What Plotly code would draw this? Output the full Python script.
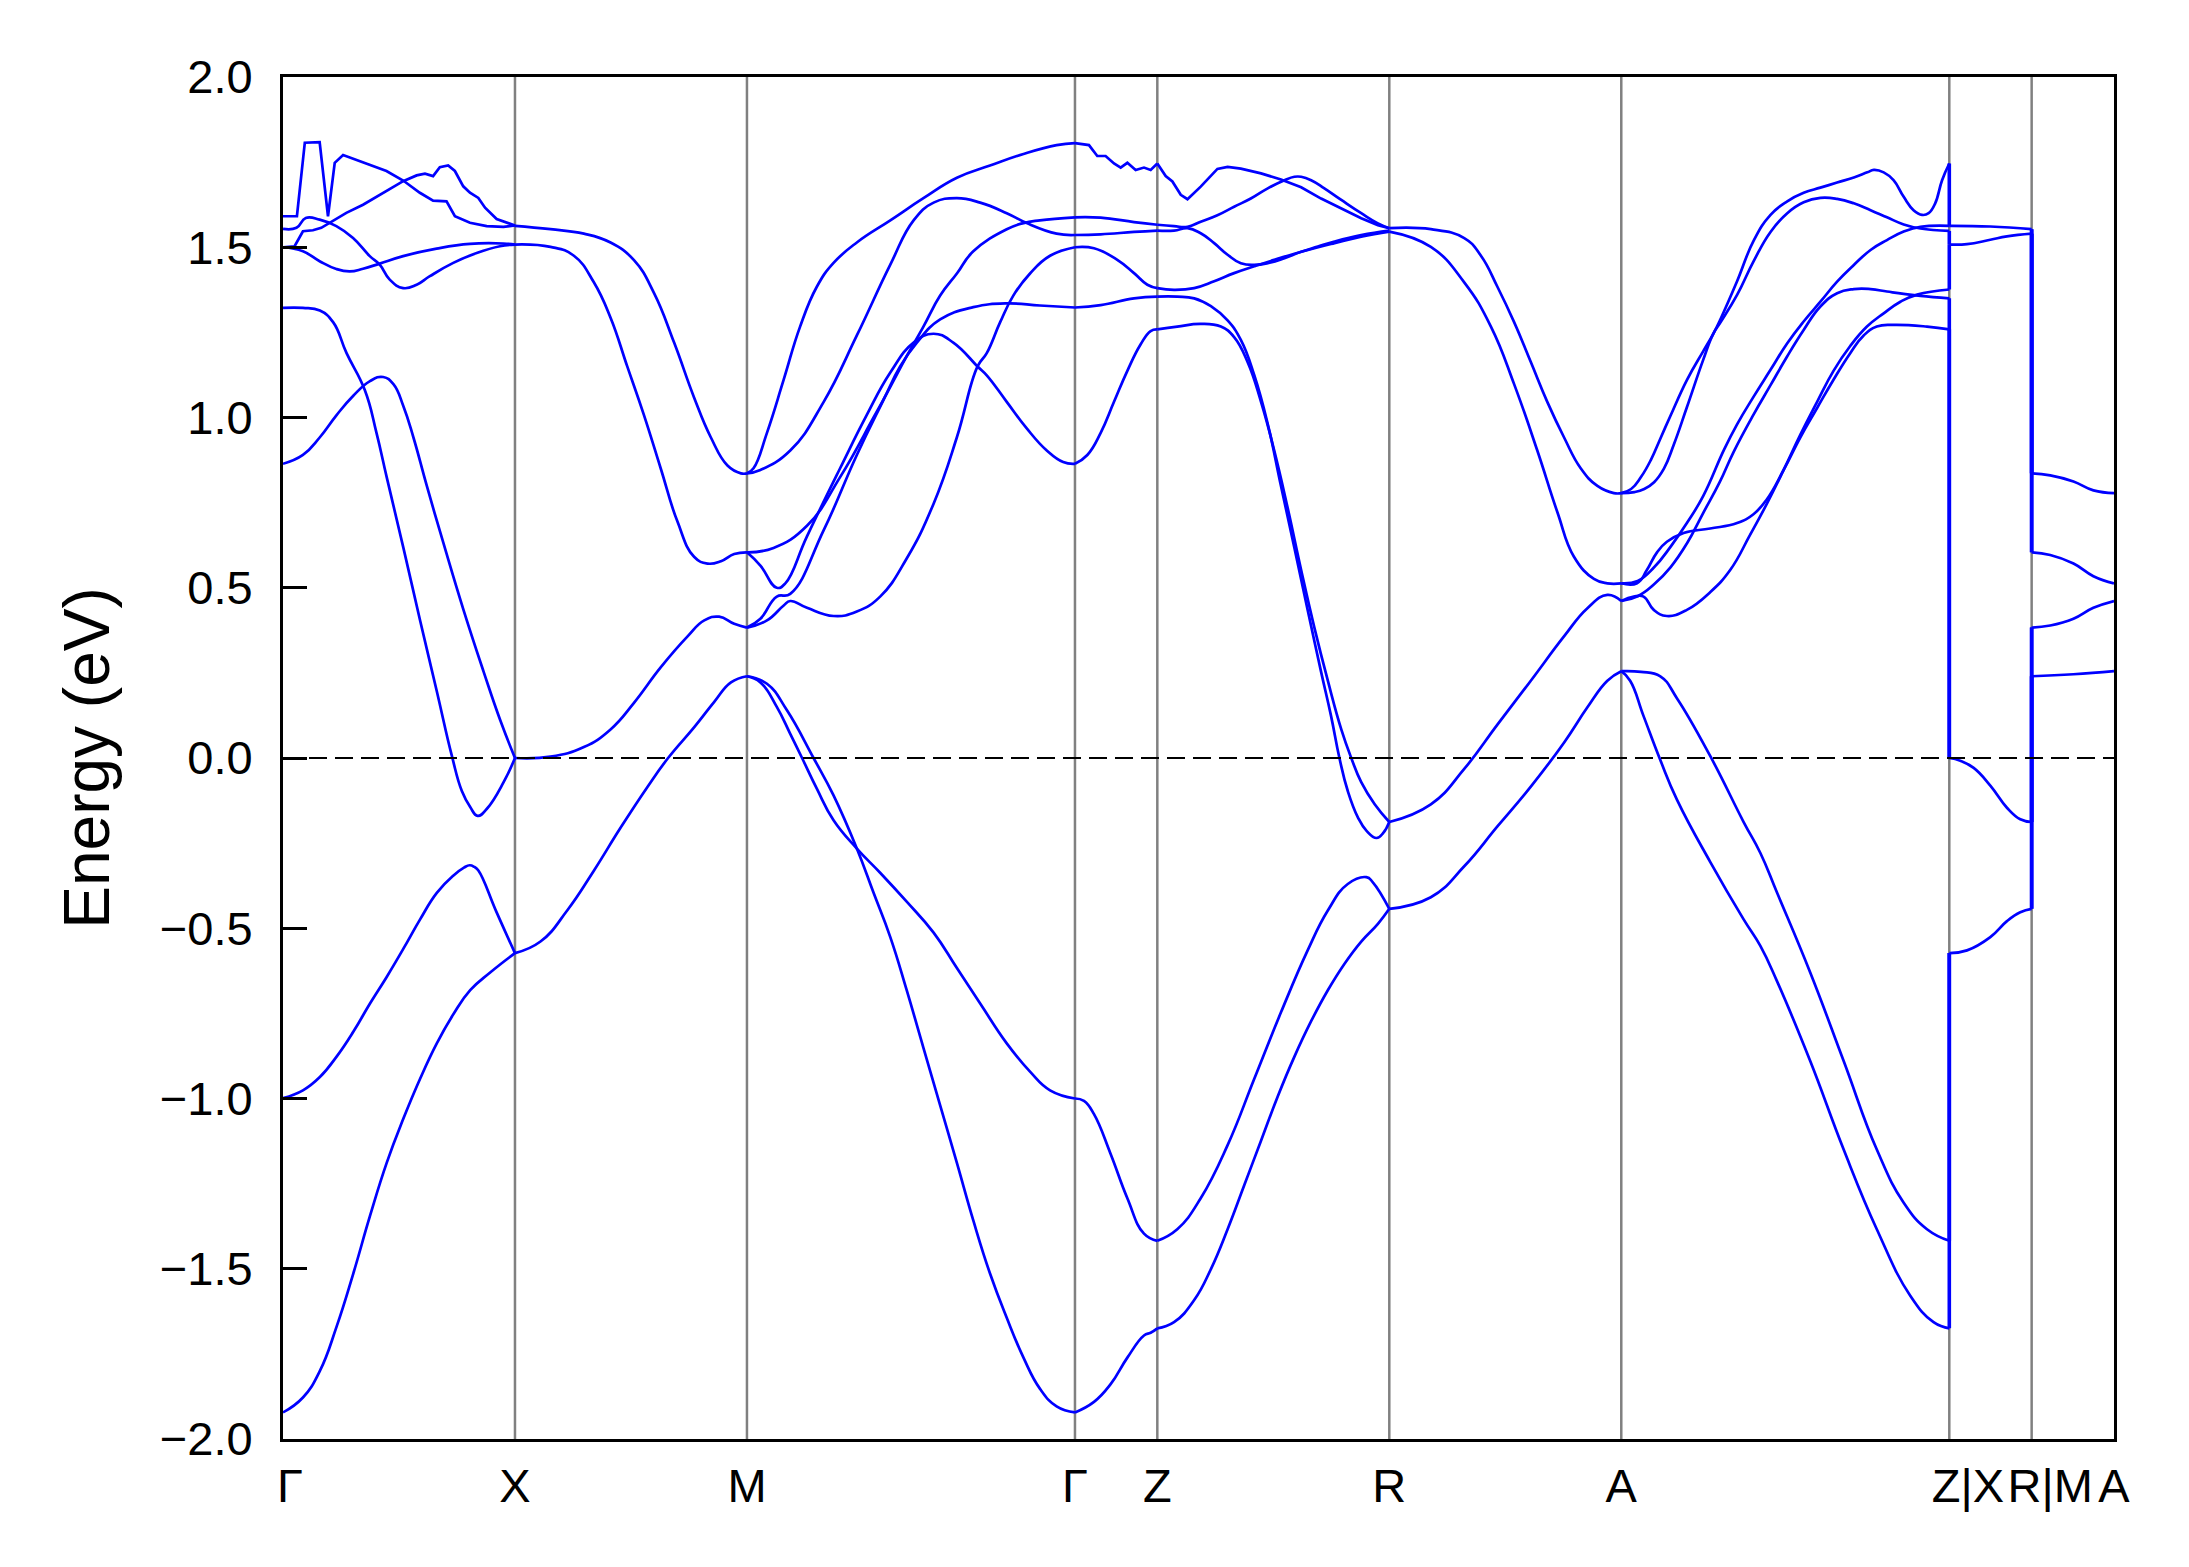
import plotly.graph_objects as go

# ---------------- axis labels / path ----------------
labels = ["Γ", "X", "M", "Γ", "Z", "R", "A", "Z|X", "R|M", "A"]
label_pos = [0.0, 1.0, 2.0, 3.414, 3.769, 4.769, 5.769, 7.183, 7.538, 7.893]

y_ticks = [-2.0, -1.5, -1.0, -0.5, 0.0, 0.5, 1.0, 1.5, 2.0]
y_tick_text = ["−2.0", "−1.5", "−1.0", "−0.5", "0.0", "0.5", "1.0", "1.5", "2.0"]

# ---------------- band data per segment ----------------
# each curve: (fraction along the segment, energy in eV, line shape)
GX = [
    ([0, .086, .159, .231, .303, .375, .447, .519, .591, .663, .735, .807, .893, 1],
     [-1.922, -1.878, -1.80, -1.67, -1.514, -1.345, -1.189, -1.059, -0.942, -0.838, -0.752, -0.682, -0.630, -0.573], "spline"),
    ([0, .086, .159, .231, .303, .375, .447, .519, .591, .663, .735, .78, .805, .825, .843, .92, 1],
     [-0.999, -0.976, -0.937, -0.877, -0.804, -0.721, -0.643, -0.560, -0.474, -0.396, -0.345, -0.322, -0.315, -0.320, -0.331, -0.452, -0.573], "spline"),
    ([0, .086, .159, .216, .274, .353, .403, .447, .519, .591, .663, .728, .771, .807, .839, .879, .951, 1],
     [1.322, 1.322, 1.314, 1.280, 1.189, 1.080, 0.955, 0.825, 0.617, 0.404, 0.196, 0.006, -0.097, -0.144, -0.170, -0.149, -0.071, 0.0], "spline"),
    ([0, .086, .159, .231, .303, .375, .432, .476, .519, .562, .620, .692, .778, .865, .937, 1],
     [0.864, 0.890, 0.942, 1.007, 1.064, 1.107, 1.119, 1.098, 1.033, 0.942, 0.799, 0.630, 0.435, 0.253, 0.110, 0.0], "spline"),
    ([0, .060, .094, .158, .194, .223, .259, .374, .446, .518, .590, .647, .705, .741, .806, .878, .950, 1],
     [1.591, 1.591, 1.807, 1.809, 1.591, 1.748, 1.771, 1.743, 1.724, 1.696, 1.660, 1.637, 1.635, 1.591, 1.572, 1.562, 1.560, 1.564], "linear"),
    ([0, .058, .098, .158, .230, .302, .374, .417, .460, .518, .576, .633, .734, .835, .935, 1],
     [1.554, 1.557, 1.586, 1.581, 1.562, 1.527, 1.474, 1.449, 1.405, 1.380, 1.390, 1.415, 1.454, 1.483, 1.503, 1.508], "spline"),
    ([0, .050, .086, .129, .165, .201, .273, .345, .432, .518, .576, .612, .647, .676, .712, .741, .777, .806, .842, .871, .921, 1],
     [1.5, 1.503, 1.547, 1.550, 1.557, 1.572, 1.601, 1.625, 1.660, 1.694, 1.711, 1.716, 1.709, 1.735, 1.740, 1.724, 1.679, 1.660, 1.645, 1.616, 1.583, 1.564], "linear"),
    ([0, .086, .158, .230, .288, .345, .417, .518, .662, .806, .950, 1],
     [1.5, 1.488, 1.459, 1.436, 1.429, 1.437, 1.452, 1.474, 1.496, 1.510, 1.511, 1.508], "spline"),
]

XM = [
    ([0, .153, .297, .412, .513, .599, .686, .772, .844, .916, .974, 1],
     [1.563, 1.553, 1.540, 1.514, 1.462, 1.366, 1.220, 1.059, 0.942, 0.859, 0.836, 0.836], "spline"),
    ([0, .153, .254, .340, .412, .484, .556, .628, .700, .772, .830, .888, .945, 1],
     [1.508, 1.501, 1.475, 1.397, 1.293, 1.150, 1.007, 0.851, 0.695, 0.591, 0.571, 0.578, 0.599, 0.604], "spline"),
    ([0, .153, .297, .412, .513, .628, .744, .816, .880, .945, 1],
     [0.0, 0.004, 0.032, 0.084, 0.162, 0.266, 0.357, 0.404, 0.415, 0.394, 0.383], "spline"),
    ([0, .110, .225, .340, .455, .571, .660, .772, .859, .931, 1],
     [-0.573, -0.539, -0.448, -0.331, -0.205, -0.085, 0.0, 0.090, 0.165, 0.222, 0.240], "spline"),
]

MG = [
    ([0, .020, .061, .112, .162, .213, .264, .335, .437, .538, .640, .741, .843, .944, 1],
     [0.836, 0.851, 0.955, 1.111, 1.267, 1.384, 1.454, 1.514, 1.579, 1.644, 1.704, 1.740, 1.774, 1.800, 1.806], "spline"),
    ([0, .041, .132, .234, .335, .437, .508, .569, .640, .711, .792, .853, .944, 1],
     [0.836, 0.846, 0.903, 1.046, 1.241, 1.449, 1.579, 1.631, 1.644, 1.631, 1.600, 1.571, 1.540, 1.536], "spline"),
    ([0, .081, .183, .284, .386, .437, .487, .538, .589, .640, .690, .792, .843, .893, 1],
     [0.604, 0.617, 0.682, 0.825, 1.000, 1.090, 1.180, 1.267, 1.358, 1.423, 1.488, 1.553, 1.571, 1.579, 1.588], "spline"),
    ([0, .041, .091, .117, .183, .284, .365, .437, .508, .569, .629, .703, .731, .792, .853, .914, .964, 1],
     [0.604, 0.565, 0.500, 0.513, 0.651, 0.851, 1.007, 1.132, 1.220, 1.246, 1.220, 1.150, 1.124, 1.046, 0.968, 0.903, 0.869, 0.864], "spline"),
    ([0, .041, .091, .132, .234, .335, .416, .467, .518, .589, .690, .792, .893, 1],
     [0.383, 0.409, 0.474, 0.482, 0.669, 0.890, 1.051, 1.150, 1.220, 1.288, 1.324, 1.335, 1.329, 1.323], "spline"),
    ([0, .061, .112, .132, .183, .264, .335, .406, .487, .569, .640, .703, .731, .772, .812, .863, .924, 1],
     [0.383, 0.404, 0.448, 0.461, 0.441, 0.417, 0.430, 0.474, 0.586, 0.747, 0.942, 1.150, 1.189, 1.280, 1.358, 1.423, 1.475, 1.500], "spline"),
    ([0, .041, .091, .132, .168, .213, .264, .335, .406, .487, .569, .640, .711, .792, .863, .924, 1],
     [0.240, 0.222, 0.150, 0.071, 0.0, -0.090, -0.183, -0.266, -0.337, -0.422, -0.513, -0.617, -0.721, -0.838, -0.921, -0.976, -1.0], "spline"),
    ([0, .061, .122, .203, .264, .335, .386, .437, .487, .538, .589, .640, .690, .741, .792, .843, .893, .944, 1],
     [0.240, 0.218, 0.140, 0.0, -0.110, -0.266, -0.396, -0.526, -0.682, -0.851, -1.020, -1.189, -1.358, -1.514, -1.644, -1.761, -1.852, -1.904, -1.922], "spline"),
]

GZ = [
    ([0, .170, .271, .372, .474, .555, .636, .737, .838, .919, 1],
     [1.806, 1.800, 1.768, 1.768, 1.746, 1.734, 1.748, 1.727, 1.734, 1.727, 1.746], "linear"),
    ([0, .312, .717, 1], [1.588, 1.587, 1.574, 1.566], "spline"),
    ([0, .312, .717, 1], [1.536, 1.538, 1.545, 1.549], "spline"),
    ([0, .231, .514, .717, .879, 1], [1.500, 1.497, 1.463, 1.424, 1.390, 1.380], "spline"),
    ([0, .312, .717, 1], [1.323, 1.330, 1.350, 1.355], "spline"),
    ([0, .150, .312, .474, .636, .798, .919, 1], [0.864, 0.890, 0.955, 1.046, 1.137, 1.215, 1.254, 1.259], "spline"),
    ([0, .109, .231, .433, .636, .838, 1], [-1.0, -1.007, -1.046, -1.163, -1.293, -1.397, -1.418], "spline"),
    ([0, .231, .433, .636, .838, .919, 1], [-1.922, -1.891, -1.839, -1.761, -1.696, -1.688, -1.675], "spline"),
]

ZR = [
    ([0, .036, .065, .101, .130, .187, .259, .303, .360, .447, .533, .620, .706, .793, .879, .951, 1],
     [1.746, 1.709, 1.693, 1.654, 1.641, 1.678, 1.730, 1.736, 1.731, 1.717, 1.699, 1.676, 1.643, 1.614, 1.585, 1.565, 1.556], "linear"),
    ([0, .072, .130, .187, .259, .331, .403, .476, .548, .591, .620, .663, .720, .793, .879, .951, 1],
     [1.566, 1.562, 1.560, 1.575, 1.594, 1.619, 1.643, 1.673, 1.697, 1.707, 1.707, 1.697, 1.673, 1.639, 1.600, 1.570, 1.556], "spline"),
    ([0, .072, .130, .187, .245, .303, .360, .418, .476, .548, .620, .692, .764, .879, 1],
     [1.549, 1.549, 1.556, 1.541, 1.512, 1.478, 1.453, 1.448, 1.453, 1.468, 1.487, 1.502, 1.517, 1.536, 1.549], "spline"),
    ([0, .072, .159, .245, .331, .418, .504, .591, .677, .764, .879, 1],
     [1.380, 1.375, 1.380, 1.400, 1.424, 1.444, 1.463, 1.481, 1.497, 1.512, 1.531, 1.546], "spline"),
    ([0, .086, .159, .231, .303, .360, .418, .476, .533, .591, .648, .706, .749, .785, .821, .865, .902, .945, .974, 1],
     [1.355, 1.355, 1.350, 1.327, 1.285, 1.228, 1.124, 0.981, 0.799, 0.617, 0.435, 0.253, 0.123, 0.0, -0.097, -0.175, -0.214, -0.235, -0.220, -0.188], "spline"),
    ([0, .086, .187, .274, .331, .389, .447, .504, .562, .620, .677, .735, .793, .836, .879, .937, 1],
     [1.259, 1.267, 1.275, 1.267, 1.236, 1.163, 1.046, 0.903, 0.734, 0.552, 0.383, 0.227, 0.084, 0.0, -0.071, -0.136, -0.188], "spline"),
    ([0, .086, .187, .303, .418, .533, .648, .735, .821, .901, .929, 1],
     [-1.418, -1.384, -1.293, -1.137, -0.942, -0.747, -0.565, -0.448, -0.370, -0.350, -0.365, -0.443], "spline"),
    ([0, .072, .159, .231, .303, .375, .447, .519, .591, .663, .735, .807, .879, .951, 1],
     [-1.675, -1.657, -1.592, -1.501, -1.384, -1.254, -1.124, -0.994, -0.877, -0.773, -0.682, -0.604, -0.539, -0.487, -0.443], "spline"),
]

RA = [
    ([0, .179, .323, .395, .466, .538, .610, .681, .753, .825, .897, .968, 1],
     [1.556, 1.553, 1.527, 1.475, 1.384, 1.280, 1.163, 1.046, 0.942, 0.851, 0.799, 0.778, 0.778], "spline"),
    ([0, .179, .323, .438, .538, .638, .725, .796, .882, .940, 1],
     [1.546, 1.501, 1.397, 1.267, 1.098, 0.903, 0.721, 0.591, 0.526, 0.513, 0.513], "spline"),
    ([0, .179, .323, .466, .610, .753, .854, .940, 1],
     [-0.188, -0.136, -0.032, 0.098, 0.227, 0.357, 0.440, 0.479, 0.461], "spline"),
    ([0, .179, .323, .466, .610, .753, .854, .940, 1],
     [-0.443, -0.409, -0.318, -0.201, -0.084, 0.045, 0.149, 0.227, 0.255], "spline"),
]

AZ = [
    ([0, .03, .06, .09, .12, .15, .2, .25, .28, .303, .353, .404, .455, .506, .556, .607, .658, .709, .75, .77, .80, .83, .861, .891, .917, .937, .957, .978, 1],
     [0.778, 0.790, 0.825, 0.875, 0.940, 1.005, 1.110, 1.195, 1.245, 1.290, 1.400, 1.520, 1.595, 1.635, 1.660, 1.675, 1.690, 1.705, 1.720, 1.727, 1.720, 1.697, 1.648, 1.609, 1.595, 1.600, 1.629, 1.697, 1.746], "spline"),
    ([0, .04, .07, .1, .13, .16, .2, .25, .28, .303, .353, .404, .455, .506, .556, .607, .658, .709, .76, .81, .861, .912, 1],
     [0.778, 0.781, 0.790, 0.810, 0.850, 0.920, 1.030, 1.170, 1.245, 1.280, 1.360, 1.460, 1.545, 1.600, 1.632, 1.645, 1.642, 1.629, 1.609, 1.588, 1.567, 1.555, 1.548], "spline"),
    ([0, .05, .1, .15, .2, .25, .313, .353, .404, .455, .506, .556, .607, .658, .709, .76, .81, .861, .912, 1],
     [0.513, 0.520, 0.560, 0.620, 0.690, 0.770, 0.905, 0.980, 1.062, 1.140, 1.218, 1.282, 1.340, 1.399, 1.448, 1.492, 1.521, 1.546, 1.560, 1.563], "spline"),
    ([0, .05, .1, .15, .2, .25, .3, .343, .404, .455, .506, .556, .607, .658, .709, .76, .81, .861, .912, 1],
     [0.461, 0.475, 0.510, 0.560, 0.630, 0.720, 0.810, 0.900, 1.010, 1.095, 1.180, 1.257, 1.326, 1.365, 1.377, 1.377, 1.370, 1.363, 1.357, 1.350], "spline"),
    ([0, .048, .078, .109, .139, .190, .271, .353, .403, .444, .495, .546, .597, .647, .698, .739, .779, .830, .932, 1],
     [0.513, 0.513, 0.552, 0.604, 0.635, 0.661, 0.674, 0.690, 0.716, 0.760, 0.846, 0.942, 1.028, 1.111, 1.189, 1.241, 1.267, 1.272, 1.267, 1.259], "spline"),
    ([0, .038, .068, .099, .139, .200, .271, .332, .393, .444, .495, .546, .597, .647, .698, .749, .800, .851, .902, 1],
     [0.461, 0.474, 0.474, 0.435, 0.417, 0.435, 0.487, 0.552, 0.656, 0.747, 0.846, 0.950, 1.046, 1.137, 1.210, 1.267, 1.306, 1.340, 1.361, 1.376], "spline"),
    ([0, .06, .119, .170, .271, .373, .424, .475, .576, .678, .779, .861, .932, 1],
     [0.255, 0.253, 0.240, 0.175, 0.006, -0.188, -0.279, -0.396, -0.630, -0.890, -1.150, -1.306, -1.384, -1.418], "spline"),
    ([0, .027, .068, .119, .170, .271, .373, .424, .475, .576, .678, .779, .881, .952, 1],
     [0.255, 0.227, 0.123, -0.006, -0.123, -0.305, -0.474, -0.552, -0.656, -0.890, -1.150, -1.384, -1.579, -1.657, -1.675], "spline"),
]

XR = [
    ([0, .498, 1], [1.563, 1.561, 1.553], "spline"),
    ([0, .215, .498, .700, 1], [1.508, 1.509, 1.522, 1.532, 1.540], "spline"),
    ([0, .134, .296, .498, .700, .862, 1], [0.0, -0.008, -0.029, -0.081, -0.146, -0.180, -0.188], "spline"),
    ([0, .215, .498, .700, .862, 1], [-0.573, -0.565, -0.526, -0.479, -0.453, -0.443], "spline"),
]

MA = [
    ([0, .226, .508, .750, 1], [0.836, 0.830, 0.812, 0.786, 0.778], "spline"),
    ([0, .226, .508, .750, 1], [0.604, 0.596, 0.571, 0.534, 0.513], "spline"),
    ([0, .226, .508, .750, 1], [0.383, 0.389, 0.409, 0.441, 0.461], "spline"),
    ([0, .508, 1], [0.240, 0.246, 0.255], "spline"),
]

# ---------------- build figure ----------------
BLUE = "#0000ff"
fig = go.Figure()

segments = [(GX, 0, 1), (XM, 1, 2), (MG, 2, 3), (GZ, 3, 4), (ZR, 4, 5),
            (RA, 5, 6), (AZ, 6, 7), (XR, 7, 8), (MA, 8, 9)]
for curves, a, b in segments:
    x0, x1 = label_pos[a], label_pos[b]
    for fr, en, shape in curves:
        fig.add_trace(go.Scatter(
            x=[x0 + f * (x1 - x0) for f in fr], y=en, mode="lines",
            line=dict(color=BLUE, width=2.7, shape=shape, smoothing=1.3),
            hoverinfo="skip", showlegend=False))

# vertical jumps at discontinuities (band n left -> band n right)
def add_jump(node, left_vals, right_vals):
    for lo, hi in zip(sorted(left_vals), sorted(right_vals)):
        fig.add_trace(go.Scatter(
            x=[label_pos[node], label_pos[node]], y=[lo, hi], mode="lines",
            line=dict(color=BLUE, width=3.6), hoverinfo="skip", showlegend=False))

add_jump(7, [c[1][-1] for c in AZ], [c[1][0] for c in XR for _ in (0, 1)])
add_jump(8, [c[1][-1] for c in XR for _ in (0, 1)], [c[1][0] for c in MA for _ in (0, 1)])

# high-symmetry vertical lines
for xv in label_pos[1:-1]:
    fig.add_shape(type="line", xref="x", yref="paper", x0=xv, x1=xv, y0=0, y1=1,
                  line=dict(color="#808080", width=2.5), layer="below")

# Fermi level
fig.add_shape(type="line", xref="paper", yref="y", x0=0, x1=1, y0=0, y1=0,
              line=dict(color="black", width=2.2, dash="18px,8px"), layer="above")

# tick-label placement: a few labels sit slightly right of their lines
label_nudge = [0.03, 0, 0, 0, 0, 0, 0, 0.08, 0.08, 0]
label_x = [p + d for p, d in zip(label_pos, label_nudge)]

FONT = "Liberation Sans, Arial, sans-serif"
fig.update_layout(
    width=2181, height=1559,
    margin=dict(l=275, r=75, t=69, b=128),
    paper_bgcolor="white", plot_bgcolor="white",
    font=dict(family=FONT, color="black"),
    showlegend=False,
    xaxis=dict(range=[label_pos[0], label_pos[-1]], tickmode="array",
               tickvals=label_x, ticktext=labels, ticks="",
               tickfont=dict(size=47, family=FONT), ticklabelstandoff=4,
               showline=True, mirror=True, linecolor="black", linewidth=3,
               showgrid=False, zeroline=False),
    yaxis=dict(range=[-2, 2], tickmode="array", tickvals=y_ticks, ticktext=y_tick_text,
               ticks="inside", ticklen=24, tickwidth=3, tickcolor="black",
               tickfont=dict(size=47, family=FONT), ticklabelstandoff=18,
               showline=True, mirror=True, linecolor="black", linewidth=3,
               showgrid=False, zeroline=False,
               title=dict(text="Energy (eV)", font=dict(size=64, family=FONT), standoff=30)),
)

fig.write_html("out.html")
